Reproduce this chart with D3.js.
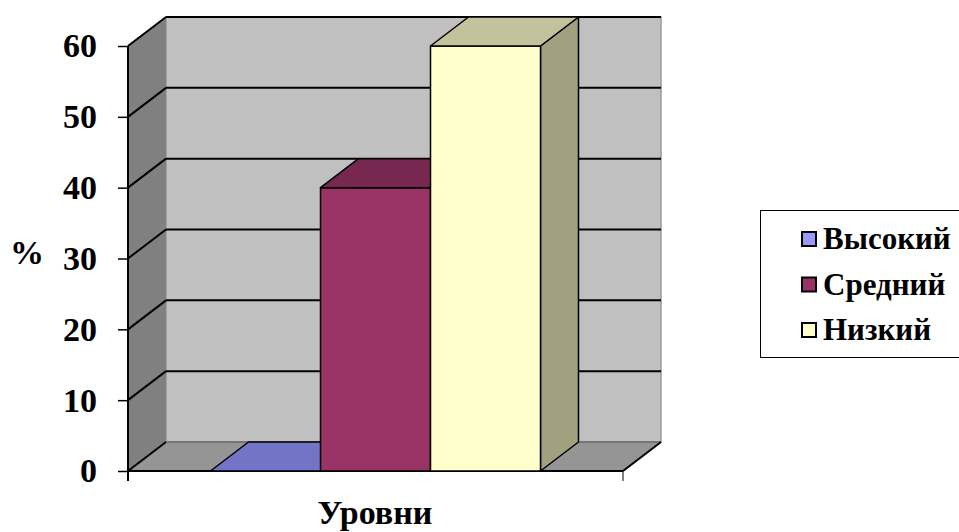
<!DOCTYPE html>
<html>
<head>
<meta charset="utf-8">
<script src="https://cdn.jsdelivr.net/npm/d3@7"></script>
<style>
  body { margin: 0; background: #fff; }
  svg { display: block; }
</style>
</head>
<body>
<svg id="chart" width="959" height="532"></svg>
<script>
// chart data
const categories = ["Уровни"];
const seriesNames = ["Высокий", "Средний", "Низкий"];
const seriesValues = [0, 40, 60];
const yTicks = [0, 10, 20, 30, 40, 50, 60];

// colours per series: front, top, side, legend
const seriesColors = ["#7474c6", "#993366", "#ffffcc"];
const topColors = ["#7474c6", "#772850", "#c2c29c"];
const sideColors = ["#5c5c9e", "#6e2449", "#a1a17f"];
const legendColors = ["#9999ff", "#993366", "#ffffcc"];

const svg = d3.select("#chart");

// 3D depth offset
const DX = 38, DY = -29;

const y = d3.scaleLinear().domain([0, 60]).range([471, 46]);
const x0 = d3.scaleBand().domain(categories).range([128, 623])
  .paddingInner(0).paddingOuter(0.25);
const x1 = d3.scaleBand().domain(seriesNames).range([0, x0.bandwidth()]);

const left = 128, right = 623;
const pts = a => a.map(p => p.join(",")).join(" ");

function label(sel, size) {
  return sel.attr("font-family", "Liberation Serif")
    .attr("font-weight", "bold")
    .attr("font-size", size)
    .attr("fill", "#000");
}

// back wall
svg.append("polygon")
  .attr("points", pts([[left + DX, y(60) + DY], [right + DX, y(60) + DY], [right + DX, y(0) + DY], [left + DX, y(0) + DY]]))
  .attr("fill", "#c0c0c0").attr("stroke", "#9a9a9a").attr("stroke-width", 1.5);

// side wall
svg.append("polygon")
  .attr("points", pts([[left, y(60)], [left + DX, y(60) + DY], [left + DX, y(0) + DY], [left, y(0)]]))
  .attr("fill", "#808080");

// floor
svg.append("polygon")
  .attr("points", pts([[left, y(0)], [left + DX, y(0) + DY], [right + DX, y(0) + DY], [right, y(0)]]))
  .attr("fill", "#959595");

// gridlines on back wall and side wall
const grid = svg.append("g").attr("stroke", "#000").attr("stroke-width", 2).attr("fill", "none");
yTicks.forEach(t => {
  if (t > 0) {
    grid.append("line")
      .attr("x1", left + DX).attr("x2", right + DX)
      .attr("y1", y(t) + DY).attr("y2", y(t) + DY);
  }
  grid.append("line")
    .attr("x1", left).attr("x2", left + DX)
    .attr("y1", y(t)).attr("y2", y(t) + DY);
});
// floor edges
grid.append("line").attr("x1", left + DX).attr("x2", right + DX)
  .attr("y1", y(0) + DY).attr("y2", y(0) + DY).attr("stroke", "#6a6a6a").attr("stroke-width", 1.5);
grid.append("line").attr("x1", right).attr("x2", right + DX)
  .attr("y1", y(0)).attr("y2", y(0) + DY);
grid.append("line").attr("x1", left).attr("x2", right)
  .attr("y1", y(0)).attr("y2", y(0));

// bars
const bars = svg.append("g");
seriesNames.forEach((s, i) => {
  const xa = x0(categories[0]) + x1(s);
  const xb = xa + x1.bandwidth();
  const yt = y(seriesValues[i]), yb = y(0);
  const g = bars.append("g").attr("stroke", "#000").attr("stroke-width", 1.5).attr("stroke-linejoin", "round");
  if (seriesValues[i] > 0) {
    g.append("polygon")
      .attr("points", pts([[xb, yt], [xb + DX, yt + DY], [xb + DX, yb + DY], [xb, yb]]))
      .attr("fill", sideColors[i]);
    g.append("polygon")
      .attr("points", pts([[xa, yt], [xb, yt], [xb, yb], [xa, yb]]))
      .attr("fill", seriesColors[i]);
  }
  g.append("polygon")
    .attr("points", pts([[xa, yt], [xa + DX, yt + DY], [xb + DX, yt + DY], [xb, yt]]))
    .attr("fill", topColors[i]);
});

// y axis
svg.append("line").attr("x1", left).attr("x2", left).attr("y1", y(60)).attr("y2", y(0) + 10)
  .attr("stroke", "#000").attr("stroke-width", 2);
svg.append("line").attr("x1", right).attr("x2", right).attr("y1", y(0)).attr("y2", y(0) + 10)
  .attr("stroke", "#000").attr("stroke-width", 1);
const yAxis = d3.axisLeft(y).tickValues(yTicks).tickSize(10).tickPadding(21);
const ya = svg.append("g").attr("transform", `translate(${left},0)`).call(yAxis);
ya.select(".domain").remove();
ya.selectAll(".tick line").attr("stroke", "#000").attr("stroke-width", 1.5);
ya.selectAll(".tick text").call(label, 34);

// axis titles
svg.append("text").attr("x", 27).attr("y", 264).attr("text-anchor", "middle")
  .call(label, 34).text("%");
svg.append("text").attr("x", 375).attr("y", 524).attr("text-anchor", "middle")
  .call(label, 34).text(categories[0]);

// legend
const legend = svg.append("g");
legend.append("rect").attr("x", 760.5).attr("y", 210.5).attr("width", 230).attr("height", 147)
  .attr("fill", "#fff").attr("stroke", "#000").attr("stroke-width", 1);
seriesNames.forEach((s, i) => {
  const cy = 239 + i * 45.5;
  legend.append("rect").attr("x", 802).attr("y", cy - 7).attr("width", 14).attr("height", 14)
    .attr("fill", legendColors[i]).attr("stroke", "#000").attr("stroke-width", 2);
  legend.append("text").attr("x", 823).attr("y", cy + 10)
    .call(label, 31).text(s);
});
</script>
</body>
</html>
